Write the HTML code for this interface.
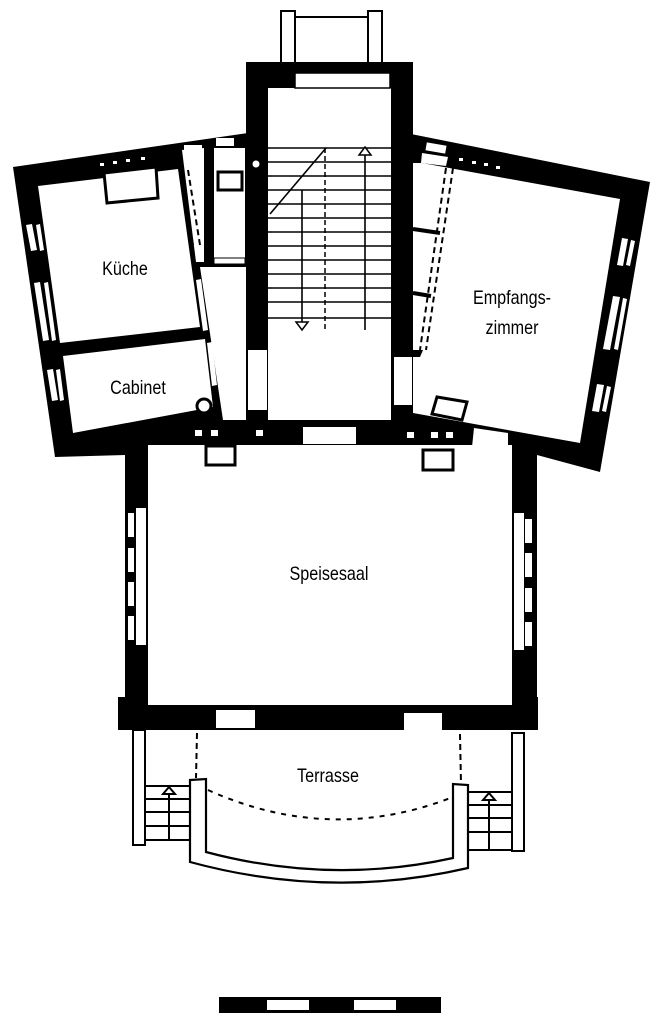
<!DOCTYPE html>
<html><head><meta charset="utf-8"><style>
html,body{margin:0;padding:0;background:#fff;}
svg{display:block;}
text{font-family:"Liberation Sans",sans-serif;font-size:19px;fill:#000;}
</style></head><body>
<svg width="657" height="1024" viewBox="0 0 657 1024" xmlns="http://www.w3.org/2000/svg">
<rect x="281" y="11" width="14" height="52" fill="#fff" stroke="#000" stroke-width="2"/>
<rect x="368" y="11" width="14" height="52" fill="#fff" stroke="#000" stroke-width="2"/>
<line x1="295" y1="17" x2="368" y2="17" stroke="#000" stroke-width="2"/>

<polygon points="13,167 248,133 248,445 125,452 125,455 55,457" fill="#000"/>
<polygon points="411,134 650,182 600,472 537,455 537,445 411,445" fill="#000"/>
<rect x="246" y="62" width="167" height="385" fill="#000"/>
<rect x="125" y="423" width="412" height="290" fill="#000"/>
<rect x="118" y="697" width="420" height="33" fill="#000"/>

<polygon points="38,186 178,169 200,327 60,343" fill="#fff"/>
<polygon points="63,356 205,339 213,407 73,433" fill="#fff"/>
<polygon points="200,267 246,267 246,420 223,420" fill="#fff"/>
<polygon points="182,150 204,148 204,262 196,262" fill="#fff"/>
<rect x="214" y="148" width="31" height="110" fill="#fff"/>
<rect x="218" y="172" width="24" height="18" fill="#fff" stroke="#000" stroke-width="3"/>
<rect x="214" y="258" width="31" height="6" fill="#fff" stroke="#000" stroke-width="1"/>
<rect x="184" y="145" width="18" height="8" fill="#fff"/>
<rect x="216" y="138" width="18" height="8" fill="#fff"/>
<circle cx="256" cy="164" r="3.5" fill="#fff"/>
<line x1="180" y1="170" x2="193" y2="245" stroke="#000" stroke-width="2" stroke-dasharray="6,4"/>
<line x1="188" y1="170" x2="200" y2="245" stroke="#000" stroke-width="2" stroke-dasharray="6,4"/>
<polygon points="104,173 156,167 158,198 107,203" fill="#fff" stroke="#000" stroke-width="3"/>
<g fill="#fff"><rect x="100" y="163" width="4" height="3"/><rect x="113" y="161" width="4" height="3"/><rect x="126" y="159" width="4" height="3"/><rect x="141" y="157" width="4" height="3"/></g>
<circle cx="204" cy="406" r="7" fill="#fff" stroke="#000" stroke-width="3"/>
<g fill="#fff">
<polygon points="26,225 32,224 37,250 31,251"/><polygon points="36,225 40,224 44,250 40,251"/>
<polygon points="34,283 40,282 49,340 43,341"/><polygon points="44,283 48,282 56,340 52,341"/>
<polygon points="47,370 53,369 58,400 52,401"/><polygon points="56,370 60,369 64,400 60,401"/>
<polygon points="196,280 201,279 208,330 203,331"/><polygon points="207,343 212,342 217,385 212,386"/>
</g>

<rect x="268" y="88" width="123" height="332" fill="#fff"/>
<rect x="295" y="73" width="95" height="15" fill="#fff" stroke="#000" stroke-width="1.5"/>
<rect x="248" y="350" width="19" height="60" fill="#fff"/>
<rect x="394" y="357" width="18" height="48" fill="#fff"/>
<g stroke="#000" stroke-width="1.6">
<line x1="268" y1="148" x2="391" y2="148"/><line x1="268" y1="162" x2="391" y2="162"/>
<line x1="268" y1="176" x2="391" y2="176"/><line x1="268" y1="190" x2="391" y2="190"/>
<line x1="268" y1="204" x2="391" y2="204"/><line x1="268" y1="218" x2="391" y2="218"/>
<line x1="268" y1="232" x2="391" y2="232"/><line x1="268" y1="246" x2="391" y2="246"/>
<line x1="268" y1="260" x2="391" y2="260"/><line x1="268" y1="274" x2="391" y2="274"/>
<line x1="268" y1="288" x2="391" y2="288"/><line x1="268" y1="302" x2="391" y2="302"/>
<line x1="268" y1="318" x2="391" y2="318"/>
<line x1="270" y1="214" x2="326" y2="148"/>
<line x1="302" y1="190" x2="302" y2="322"/>
<line x1="365" y1="155" x2="365" y2="330"/>
</g>
<line x1="325" y1="148" x2="325" y2="330" stroke="#000" stroke-width="1.5" stroke-dasharray="5,3"/>
<polygon points="296,322 308,322 302,330" fill="#fff" stroke="#000" stroke-width="1.5"/>
<polygon points="359,155 371,155 365,147" fill="#fff" stroke="#000" stroke-width="1.5"/>

<polygon points="413,163 422,163 620,199 580,443 413,413" fill="#fff"/>
<rect x="426" y="144" width="20" height="8" fill="#fff" transform="rotate(10 436 148)"/>
<polygon points="422,153 448,157 446,166 421,163" fill="#fff"/>
<g fill="#fff"><rect x="459" y="158" width="4" height="3"/><rect x="472" y="161" width="4" height="3"/><rect x="484" y="163" width="4" height="3"/><rect x="496" y="166" width="4" height="3"/></g>
<line x1="446" y1="168" x2="420" y2="350" stroke="#000" stroke-width="2" stroke-dasharray="6,4"/>
<line x1="453" y1="168" x2="426" y2="350" stroke="#000" stroke-width="2" stroke-dasharray="6,4"/>
<line x1="413" y1="229" x2="440" y2="233" stroke="#000" stroke-width="4"/>
<line x1="413" y1="293" x2="431" y2="296" stroke="#000" stroke-width="4"/>
<polygon points="413,350 423,350 420,357 413,357" fill="#000"/>
<polygon points="437,397 467,402 462,420 432,414" fill="#fff" stroke="#000" stroke-width="3"/>
<polygon points="474,428 508,433 508,447 472,447" fill="#fff"/>
<g fill="#fff">
<polygon points="622,238 628,239 623,266 617,265"/><polygon points="631,240 635,241 630,266 626,265"/>
<polygon points="613,296 620,297 610,350 603,349"/><polygon points="623,298 627,299 618,350 614,349"/>
<polygon points="597,384 604,385 599,412 592,411"/><polygon points="607,386 611,387 606,412 602,411"/>
</g>

<rect x="148" y="445" width="364" height="260" fill="#fff"/>
<rect x="303" y="427" width="53" height="17" fill="#fff"/>
<g fill="#fff">
<rect x="195" y="430" width="7" height="6"/><rect x="211" y="430" width="7" height="6"/><rect x="256" y="430" width="7" height="6"/>
<rect x="407" y="432" width="7" height="6"/><rect x="431" y="432" width="7" height="6"/><rect x="446" y="432" width="7" height="6"/>
</g>
<rect x="206" y="446" width="29" height="19" fill="#fff" stroke="#000" stroke-width="3"/>
<rect x="423" y="450" width="30" height="20" fill="#fff" stroke="#000" stroke-width="3"/>
<g fill="#fff">
<rect x="136" y="508" width="10" height="137"/>
<rect x="128" y="513" width="6" height="24"/><rect x="128" y="548" width="6" height="24"/><rect x="128" y="582" width="6" height="24"/><rect x="128" y="616" width="6" height="24"/>
<rect x="514" y="513" width="10" height="137"/>
<rect x="525" y="519" width="7" height="24"/><rect x="525" y="553" width="7" height="24"/><rect x="525" y="588" width="7" height="24"/><rect x="525" y="622" width="7" height="24"/>
<rect x="216" y="710" width="39" height="18"/><rect x="404" y="713" width="38" height="18"/>
</g>

<rect x="133" y="730" width="12" height="115" fill="#fff" stroke="#000" stroke-width="2"/>
<rect x="512" y="733" width="12" height="118" fill="#fff" stroke="#000" stroke-width="2"/>
<g stroke="#000" stroke-width="2" fill="none">
<rect x="145" y="786" width="45" height="54"/>
<line x1="145" y1="799" x2="190" y2="799"/><line x1="145" y1="812" x2="190" y2="812"/><line x1="145" y1="826" x2="190" y2="826"/>
<line x1="169" y1="792" x2="169" y2="840"/>
<rect x="468" y="792" width="44" height="58"/>
<line x1="468" y1="805" x2="512" y2="805"/><line x1="468" y1="818" x2="512" y2="818"/><line x1="468" y1="832" x2="512" y2="832"/>
<line x1="489" y1="797" x2="489" y2="850"/>
</g>
<polygon points="163,794 175,794 169,787" fill="#fff" stroke="#000" stroke-width="2"/>
<polygon points="483,800 495,800 489,793" fill="#fff" stroke="#000" stroke-width="2"/>
<path d="M190,780 L206,779 L206,852 Q330,885 453,858 L453,784 L468,785 L468,868 Q330,900 190,862 Z" fill="#fff" stroke="#000" stroke-width="2.2"/>
<line x1="197" y1="733" x2="196" y2="778" stroke="#000" stroke-width="2" stroke-dasharray="6,4"/>
<line x1="460" y1="734" x2="461" y2="784" stroke="#000" stroke-width="2" stroke-dasharray="6,4"/>
<path d="M208,790 Q330,845 453,797" fill="none" stroke="#000" stroke-width="2" stroke-dasharray="5,6"/>

<rect x="219" y="997" width="222" height="16" fill="#000"/>
<rect x="267" y="1000" width="42" height="10" fill="#fff"/>
<rect x="354" y="1000" width="42" height="10" fill="#fff"/>

<text x="125" y="275" text-anchor="middle" transform="translate(125 0) scale(0.85 1) translate(-125 0)">Küche</text>
<text x="138" y="394" text-anchor="middle" transform="translate(138 0) scale(0.85 1) translate(-138 0)">Cabinet</text>
<text x="512" y="304" text-anchor="middle" transform="translate(512 0) scale(0.85 1) translate(-512 0)">Empfangs-</text>
<text x="512" y="334" text-anchor="middle" transform="translate(512 0) scale(0.85 1) translate(-512 0)">zimmer</text>
<text x="329" y="580" text-anchor="middle" transform="translate(329 0) scale(0.85 1) translate(-329 0)">Speisesaal</text>
<text x="328" y="782" text-anchor="middle" transform="translate(328 0) scale(0.85 1) translate(-328 0)">Terrasse</text>
</svg>
</body></html>
